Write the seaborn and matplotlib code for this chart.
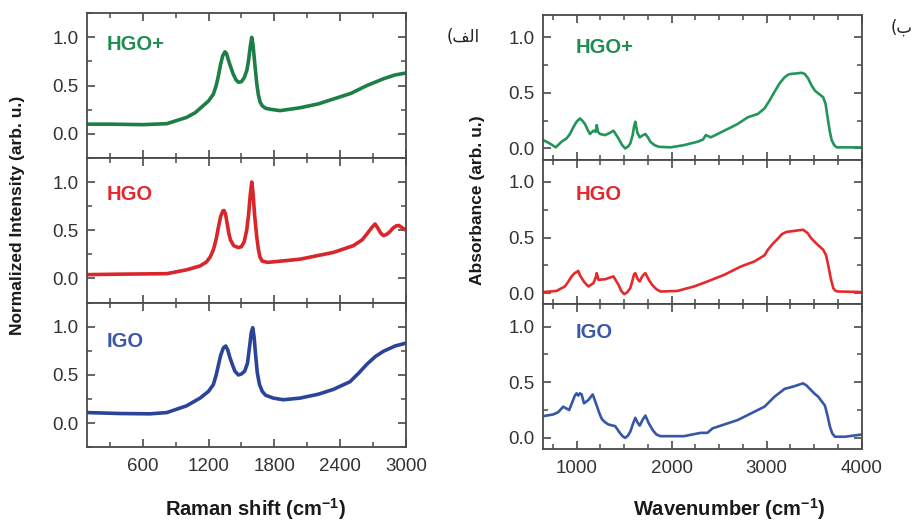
import numpy as np
import pandas as pd
import matplotlib
matplotlib.use("Agg")
import matplotlib.pyplot as plt
from matplotlib.ticker import MultipleLocator, FixedLocator
import seaborn as sns

# ---------------- Raman spectra (normalized intensity) ----------------
raman_hgo_plus_x = [95, 300, 600, 820, 1000, 1080, 1150, 1200, 1244, 1270, 1290, 1310, 1330, 1350,
                    1365, 1380, 1400, 1425, 1450, 1472, 1500, 1525, 1550, 1565, 1580, 1594, 1605,
                    1620, 1640, 1655, 1670, 1690, 1720, 1761, 1852, 2034, 2200, 2337, 2500, 2643,
                    2794, 2900, 3000]
raman_hgo_plus_y = [0.10, 0.10, 0.095, 0.105, 0.17, 0.22, 0.29, 0.34, 0.41, 0.50, 0.60, 0.72, 0.81, 0.85,
                    0.83, 0.77, 0.70, 0.62, 0.56, 0.535, 0.54, 0.58, 0.66, 0.76, 0.90, 1.00, 0.93,
                    0.75, 0.52, 0.40, 0.33, 0.29, 0.265, 0.255, 0.24, 0.27, 0.31, 0.36, 0.42, 0.50,
                    0.57, 0.61, 0.63]

raman_hgo_x = [95, 400, 820, 1000, 1123, 1180, 1214, 1245, 1270, 1290, 1310, 1330, 1341, 1355,
               1370, 1385, 1400, 1430, 1472, 1500, 1525, 1548, 1565, 1580, 1594, 1605, 1620,
               1640, 1655, 1670, 1690, 1740, 2034, 2337, 2520, 2600, 2643, 2690, 2718, 2740,
               2770, 2794, 2820, 2849, 2880, 2910, 2935, 2960, 3000]
raman_hgo_y = [0.04, 0.045, 0.05, 0.09, 0.13, 0.17, 0.22, 0.30, 0.41, 0.53, 0.64, 0.70, 0.705, 0.67,
               0.57, 0.47, 0.40, 0.34, 0.32, 0.33, 0.38, 0.50, 0.66, 0.86, 1.00, 0.90, 0.66,
               0.43, 0.30, 0.22, 0.18, 0.167, 0.20, 0.27, 0.34, 0.40, 0.46, 0.53, 0.565, 0.53,
               0.47, 0.445, 0.455, 0.48, 0.52, 0.545, 0.55, 0.53, 0.50]

raman_igo_x = [95, 400, 667, 820, 1000, 1123, 1200, 1244, 1270, 1290, 1310, 1335, 1357, 1375,
               1395, 1412, 1440, 1472, 1500, 1530, 1555, 1575, 1590, 1603, 1615, 1630, 1645,
               1665, 1690, 1720, 1791, 1882, 2034, 2200, 2337, 2490, 2570, 2643, 2720, 2794,
               2900, 3000]
raman_igo_y = [0.11, 0.10, 0.097, 0.11, 0.18, 0.26, 0.33, 0.40, 0.50, 0.60, 0.70, 0.78, 0.80, 0.76,
               0.68, 0.625, 0.54, 0.50, 0.51, 0.54, 0.62, 0.80, 0.94, 0.99, 0.90, 0.70, 0.52,
               0.40, 0.33, 0.29, 0.26, 0.243, 0.26, 0.30, 0.35, 0.43, 0.52, 0.61, 0.69, 0.745,
               0.80, 0.83]

# ---------------- FTIR spectra (absorbance) ----------------
ftir_hgo_plus_x = [650, 718, 781, 841, 894, 930, 965, 1000, 1035, 1060, 1088, 1115, 1141, 1177,
                   1200, 1212, 1225, 1247, 1300, 1350, 1388, 1441, 1480, 1512, 1545, 1565, 1590,
                   1605, 1618, 1640, 1664, 1700, 1724, 1750, 1777, 1820, 1865, 1989, 2130, 2271,
                   2330, 2360, 2412, 2554, 2695, 2801, 2907, 2977, 3030, 3083, 3140, 3189, 3230,
                   3260, 3320, 3366, 3400, 3436, 3470, 3507, 3550, 3595, 3620, 3648, 3665, 3684,
                   3710, 3737, 4000]
ftir_hgo_plus_y = [0.075, 0.045, 0.01, 0.06, 0.09, 0.13, 0.19, 0.24, 0.27, 0.25, 0.22, 0.17, 0.13, 0.16,
                   0.15, 0.21, 0.15, 0.13, 0.12, 0.14, 0.16, 0.09, 0.03, 0.0, 0.02, 0.045, 0.12,
                   0.20, 0.24, 0.14, 0.10, 0.12, 0.13, 0.10, 0.06, 0.03, 0.015, 0.01, 0.03, 0.06,
                   0.08, 0.12, 0.10, 0.16, 0.22, 0.28, 0.31, 0.36, 0.43, 0.51, 0.59, 0.64, 0.665,
                   0.67, 0.675, 0.68, 0.67, 0.63, 0.57, 0.52, 0.49, 0.46, 0.40, 0.24, 0.15, 0.075,
                   0.03, 0.01, 0.01]

ftir_hgo_x = [650, 788, 876, 910, 947, 980, 1000, 1018, 1035, 1080, 1124, 1177, 1205, 1212,
              1230, 1300, 1350, 1388, 1441, 1470, 1501, 1535, 1565, 1590, 1605, 1618, 1640,
              1664, 1690, 1710, 1724, 1760, 1795, 1840, 1883, 2059, 2236, 2377, 2554, 2730,
              2871, 2977, 3013, 3060, 3118, 3160, 3207, 3295, 3383, 3430, 3472, 3530, 3595,
              3625, 3648, 3675, 3701, 3725, 3754, 4000]
ftir_hgo_y = [0.01, 0.02, 0.06, 0.10, 0.15, 0.18, 0.19, 0.20, 0.16, 0.10, 0.06, 0.09, 0.15, 0.18,
              0.12, 0.125, 0.14, 0.15, 0.075, 0.02, -0.01, 0.01, 0.045, 0.12, 0.17, 0.18, 0.13,
              0.105, 0.15, 0.17, 0.18, 0.12, 0.075, 0.035, 0.015, 0.02, 0.06, 0.105, 0.165, 0.24,
              0.285, 0.34, 0.39, 0.44, 0.49, 0.53, 0.55, 0.56, 0.57, 0.54, 0.49, 0.44, 0.39,
              0.34, 0.25, 0.13, 0.045, 0.02, 0.015, 0.01]

ftir_igo_x = [650, 753, 806, 859, 922, 950, 982, 1000, 1018, 1035, 1053, 1078, 1124, 1170,
              1212, 1240, 1265, 1300, 1335, 1406, 1459, 1490, 1512, 1540, 1565, 1595, 1618,
              1640, 1664, 1700, 1724, 1760, 1805, 1840, 1883, 2130, 2306, 2377, 2430, 2554,
              2695, 2836, 2977, 3083, 3189, 3277, 3383, 3420, 3454, 3500, 3542, 3613, 3640,
              3666, 3690, 3719, 3825, 4000]
ftir_igo_y = [0.195, 0.21, 0.23, 0.28, 0.25, 0.31, 0.38, 0.40, 0.38, 0.40, 0.39, 0.31, 0.34, 0.39,
              0.29, 0.22, 0.17, 0.14, 0.12, 0.105, 0.04, 0.01, 0.0, 0.02, 0.055, 0.13, 0.18,
              0.14, 0.11, 0.17, 0.20, 0.13, 0.065, 0.03, 0.015, 0.015, 0.045, 0.045, 0.085, 0.12,
              0.16, 0.22, 0.28, 0.37, 0.44, 0.46, 0.49, 0.47, 0.44, 0.40, 0.37, 0.29, 0.20,
              0.10, 0.04, 0.01, 0.01, 0.03]

sample_names = ["HGO+", "HGO", "IGO"]
raman_series = [(raman_hgo_plus_x, raman_hgo_plus_y), (raman_hgo_x, raman_hgo_y), (raman_igo_x, raman_igo_y)]
ftir_series = [(ftir_hgo_plus_x, ftir_hgo_plus_y), (ftir_hgo_x, ftir_hgo_y), (ftir_igo_x, ftir_igo_y)]

raman_xticks = [600, 1200, 1800, 2400, 3000]
ftir_xticks = [1000, 2000, 3000, 4000]
yticks = [0.0, 0.5, 1.0]

line_colors_raman = ["#1d7f47", "#d8262b", "#2b449a"]
line_colors_ftir = ["#23955a", "#e52a2e", "#3656a6"]
text_colors = ["#1f8c50", "#e2282e", "#3a58a6"]

sns.set_theme(style="ticks")
plt.rcParams["font.family"] = ["Liberation Sans", "DejaVu Sans"]
plt.rcParams["mathtext.fontset"] = "custom"
plt.rcParams["mathtext.rm"] = "Liberation Sans"
plt.rcParams["mathtext.bf"] = "Liberation Sans:bold"
plt.rcParams["xtick.direction"] = "in"
plt.rcParams["ytick.direction"] = "in"

fig = plt.figure(figsize=(9.17, 5.25), dpi=100)

spine_col = "#4a4a4a"
tick_col = "#333333"


def style_axis(ax, xlim, ylim, xmajor, xminor, show_xlabels):
    ax.set_xlim(*xlim)
    ax.set_ylim(*ylim)
    ax.xaxis.set_major_locator(FixedLocator(xmajor))
    ax.xaxis.set_minor_locator(MultipleLocator(xminor))
    ax.yaxis.set_major_locator(FixedLocator(yticks))
    ax.yaxis.set_minor_locator(MultipleLocator(0.25))
    ax.set_yticklabels([f"{v:.1f}" for v in yticks])
    ax.tick_params(which="both", direction="in", top=True, right=True, bottom=True, left=True,
                   color=spine_col, labelcolor=tick_col, labelsize=13.5)
    ax.tick_params(which="major", length=5.5, width=1.2)
    ax.tick_params(which="minor", length=3.5, width=1.1)
    ax.tick_params(axis="y", pad=6)
    if show_xlabels:
        ax.set_xticklabels([str(v) for v in xmajor])
        ax.tick_params(axis="x", pad=8)
    else:
        ax.set_xticklabels([])
    for s in ax.spines.values():
        s.set_color(spine_col)
        s.set_linewidth(1.3)
    ax.set_xlabel("")
    ax.set_ylabel("")


panel_h = 0.2756
left_x0, left_w, left_bottom = 0.0952, 0.3475, 0.148
right_x0, right_w, right_bottom = 0.5925, 0.3472, 0.1448

label_pos_raman = [0.786, 0.75, 0.73]
label_pos_ftir = [0.777, 0.76, 0.805]

for i in range(3):
    # Raman column
    ax = fig.add_axes([left_x0, left_bottom + (2 - i) * panel_h, left_w, panel_h])
    rx, ry = raman_series[i]
    df = pd.DataFrame({"shift": rx, "intensity": ry})
    line = sns.lineplot(data=df, x="shift", y="intensity", ax=ax, color=line_colors_raman[i],
                        linewidth=2.6, sort=False)
    for ln in ax.lines:
        ln.set_solid_joinstyle("round")
    style_axis(ax, (95, 3000), (-0.25, 1.25), raman_xticks, 300, i == 2)
    ax.text(0.062, label_pos_raman[i], sample_names[i], transform=ax.transAxes,
            color=text_colors[i], fontsize=14.5, fontweight="bold", va="center", ha="left")

    # FTIR column
    ax2 = fig.add_axes([right_x0, right_bottom + (2 - i) * panel_h, right_w, panel_h])
    fx, fy = ftir_series[i]
    df2 = pd.DataFrame({"wavenumber": fx, "absorbance": fy})
    sns.lineplot(data=df2, x="wavenumber", y="absorbance", ax=ax2, color=line_colors_ftir[i],
                 linewidth=1.9, sort=False)
    for ln in ax2.lines:
        ln.set_solid_joinstyle("round")
    style_axis(ax2, (650, 4000), (-0.1, 1.2), ftir_xticks, 250, i == 2)
    ax2.text(0.10, label_pos_ftir[i], sample_names[i], transform=ax2.transAxes,
             color=text_colors[i], fontsize=14.5, fontweight="bold", va="center", ha="left")

# Axis titles
fig.text(0.019, 1 - 215 / 525, "Normalized Intensity (arb. u.)", rotation=90,
         ha="center", va="center", fontsize=12.5, fontweight="bold", color="#1a1a1a")
fig.text(256 / 917, 1 - 509 / 525, r"Raman shift (cm$^{\mathbf{-1}}$)",
         ha="center", va="center", fontsize=14.5, fontweight="bold", color="#1a1a1a")
fig.text(478 / 917, 1 - 200 / 525, "Absorbance (arb. u.)", rotation=90,
         ha="center", va="center", fontsize=12.5, fontweight="bold", color="#1a1a1a")
fig.text(729 / 917, 1 - 509 / 525, r"Wavenumber (cm$^{\mathbf{-1}}$)",
         ha="center", va="center", fontsize=14.5, fontweight="bold", color="#1a1a1a")

# Panel letters (Arabic, written in visual order with presentation forms)
fig.text(463 / 917, 1 - 37 / 525, "(\uFED2\uFEDF\uFE8D", ha="center", va="center",
         fontsize=12, color="#222222", family=["DejaVu Sans"])
fig.text(902 / 917, 1 - 28 / 525, "(\uFE8F", ha="center", va="center",
         fontsize=12, color="#222222", family=["DejaVu Sans"])

fig.savefig("out.png", dpi=100)
